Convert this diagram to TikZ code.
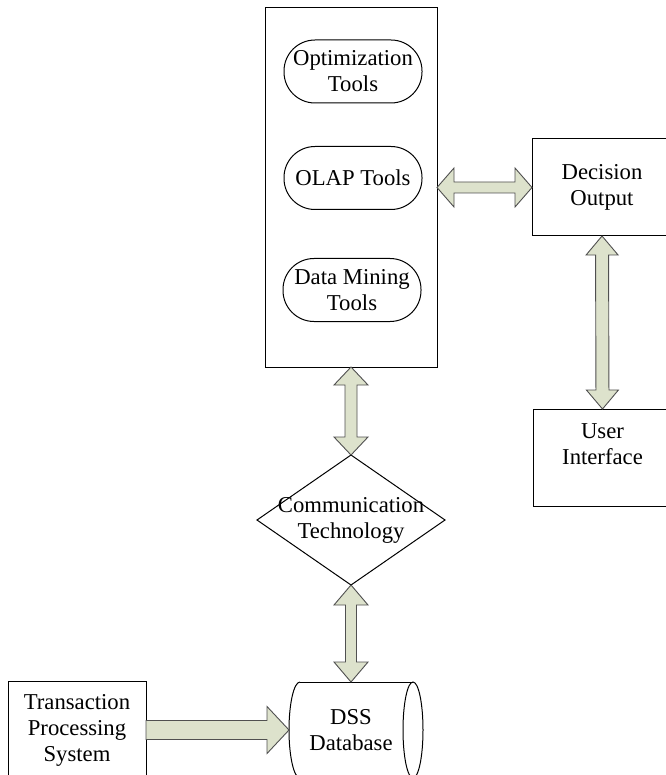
\documentclass[tikz,border=0pt]{standalone}
\usepackage{fontspec}
\setmainfont{Liberation Serif}
\usetikzlibrary{shapes.geometric,calc}
\definecolor{arrfill}{RGB}{221,226,204}
\definecolor{arrline}{RGB}{80,80,80}
\tikzset{
  txt/.style={font=\fontsize{22.7}{26}\selectfont, align=center, inner sep=0pt, outer sep=0pt},
  box/.style={txt, draw, line width=1pt, rectangle},
  pill/.style={box, rounded corners=31pt, minimum width=138pt, minimum height=63pt},
  blockarrow/.style={fill=arrfill, draw=arrline, line width=0.9pt, line join=miter}
}
% double block arrow between two points: #1,#2 ends; #3 shaft half; #4 head half; #5 head length
\newcommand\dblarrow[5]{%
  \coordinate (ha) at ($(#1)!#5pt!(#2)$);
  \coordinate (hb) at ($(#2)!#5pt!(#1)$);
  \filldraw[blockarrow] (#1) -- ($(ha)!#4pt!90:(#2)$) -- ($(ha)!#3pt!90:(#2)$)
    -- ($(hb)!#3pt!-90:(#1)$) -- ($(hb)!#4pt!-90:(#1)$) -- (#2)
    -- ($(hb)!#4pt!90:(#1)$) -- ($(hb)!#3pt!90:(#1)$)
    -- ($(ha)!#3pt!-90:(#2)$) -- ($(ha)!#4pt!-90:(#2)$) -- cycle;
}
% single block arrow from #1 to #2
\newcommand\sglarrow[5]{%
  \coordinate (hb) at ($(#2)!#5pt!(#1)$);
  \filldraw[blockarrow] ($(#1)!#3pt!-90:(#2)$) -- ($(hb)!#3pt!90:(#1)$)
    -- ($(hb)!#4pt!90:(#1)$) -- (#2) -- ($(hb)!#4pt!-90:(#1)$)
    -- ($(hb)!#3pt!-90:(#1)$) -- ($(#1)!#3pt!90:(#2)$) -- cycle;
}
\begin{document}
\begin{tikzpicture}[x=1pt,y=-1pt]
\useasboundingbox (0,0) rectangle (665,775);
\fill[white] (0,0) rectangle (665,775);

% main tool box
\node[box, minimum width=172pt, minimum height=359pt] (big) at (351,187.5) {};
\node[pill] (opt) at (353,71.5) {Optimization\\Tools};
\node[pill] (olap) at (353,178) {OLAP Tools};
\node[pill] (dm) at (352,290) {Data Mining\\Tools};

% right side
\node[box, minimum width=140pt, minimum height=97pt] (dec) at (602,187.5) {Decision\\Output};
\node[box, minimum width=139pt, minimum height=97pt] (ui) at (602.5,457.5) {User\\Interface\\\mbox{}};

% communication diamond
\node[diamond, draw, line width=1pt, minimum width=188pt, minimum height=130pt, inner sep=0pt, outer sep=0pt] (ct) at (351,520) {};
\node[txt] (cttext) at (ct.center) {Communication\\Technology};

% database cylinder (lying on its side)
\node[txt, minimum width=124pt, minimum height=96pt] (db) at (351,730) {DSS\\Database};
\draw[line width=1pt] ($(db.north west)+(11,0)$) -- (db.north east);
\draw[line width=1pt] ($(db.south west)+(11,0)$) -- (db.south east);
\draw[line width=1pt] ($(db.north west)+(11,0)$) arc[start angle=90, end angle=270, x radius=11pt, y radius=48pt];
\draw[line width=1pt] (db.east) ellipse[x radius=10pt, y radius=48pt];

% transaction processing system
\node[box, minimum width=138pt, minimum height=98pt] (tr) at (77,730) {Transaction\\Processing\\System};

% block arrows
\dblarrow{big.south}{ct.north}{6}{17}{18}
\dblarrow{ct.south}{db.north}{5.5}{17}{20}
\dblarrow{big.east}{dec.west}{5.5}{19.5}{17}
\dblarrow{dec.south}{ui.north}{6.5}{16}{19}
\sglarrow{tr.east}{db.west}{9.5}{23.5}{22}
\end{tikzpicture}
\end{document}
